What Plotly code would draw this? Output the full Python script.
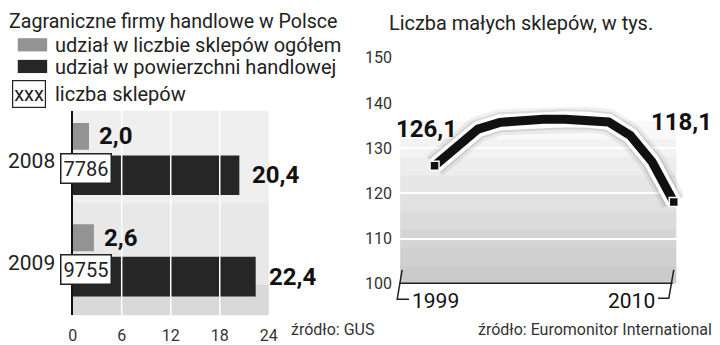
import plotly.graph_objects as go

# ---------------- data ----------------
years_left = ["2008", "2009"]
share_shops = [2.0, 2.6]          # udział w liczbie sklepów ogółem (%)
share_area = [20.4, 22.4]         # udział w powierzchni handlowej (%)
shop_counts = [7786, 9755]        # liczba sklepów
x_ticks_left = [0, 6, 12, 18, 24]

years_right = [1999, 2000, 2001, 2002, 2003, 2004, 2005, 2006, 2007, 2008, 2009, 2010]
small_shops = [126.1, 130.4, 134.2, 135.7, 136.2, 136.4, 136.4, 136.3, 135.8, 132.8, 127.0, 118.1]
y_ticks_right = [100, 110, 120, 130, 140, 150]

W, H = 720, 345
FONT = "Roboto, 'Liberation Sans', sans-serif"


def px(x):
    return x / W


def py(y):
    return 1 - y / H


def fmt(v):
    return f"{v:.1f}".replace(".", ",")


fig = go.Figure()

# ---------------- left chart: bars ----------------
fig.add_trace(go.Bar(
    x=share_shops, y=years_left, orientation="h", xaxis="x", yaxis="y",
    offset=-0.34, width=0.265, marker=dict(color="#939393", line=dict(width=0)),
    showlegend=False, hoverinfo="skip"))
fig.add_trace(go.Bar(
    x=share_area, y=years_left, orientation="h", xaxis="x", yaxis="y",
    offset=-0.02, width=0.39, marker=dict(color="#262626", line=dict(width=0)),
    showlegend=False, hoverinfo="skip"))

# ---------------- right chart: line ----------------
fig.add_trace(go.Scatter(
    x=years_right, y=small_shops, xaxis="x2", yaxis="y2", mode="lines",
    line=dict(color="rgba(0,0,0,0.06)", width=26), showlegend=False, hoverinfo="skip"))
fig.add_trace(go.Scatter(
    x=years_right, y=small_shops, xaxis="x2", yaxis="y2", mode="lines",
    line=dict(color="rgba(0,0,0,0.09)", width=20), showlegend=False, hoverinfo="skip"))
fig.add_trace(go.Scatter(
    x=years_right, y=small_shops, xaxis="x2", yaxis="y2", mode="lines",
    line=dict(color="white", width=16), showlegend=False, hoverinfo="skip"))
fig.add_trace(go.Scatter(
    x=years_right, y=small_shops, xaxis="x2", yaxis="y2", mode="lines",
    line=dict(color="#111111", width=9), showlegend=False, hoverinfo="skip"))
fig.add_trace(go.Scatter(
    x=[years_right[0], years_right[-1]], y=[small_shops[0], small_shops[-1]],
    xaxis="x2", yaxis="y2", mode="markers",
    marker=dict(symbol="square", size=9, color="#111111", line=dict(color="white", width=1.5)),
    showlegend=False, hoverinfo="skip", cliponaxis=False))

shapes = []
annotations = []

# left panel background gradient (lighter at top)
bands = [("#efefef", 0.0, 0.45), ("#e8e8e8", 0.45, 0.85), ("#d9d9d9", 0.85, 1.0)]
for col, a, b in bands:
    shapes.append(dict(type="rect", xref="x domain", yref="y domain",
                       x0=0, x1=1, y0=1 - b, y1=1 - a, fillcolor=col,
                       line=dict(width=0), layer="below"))
# white grid lines above bars
for t in x_ticks_left[1:-1]:
    shapes.append(dict(type="line", xref="x", yref="y domain", x0=t, x1=t, y0=0, y1=1,
                       line=dict(color="white", width=1.5), layer="above"))

# right panel gradient (darker near baseline)
for i in range(9):
    shapes.append(dict(type="rect", xref="x2 domain", yref="y2",
                       x0=0.0, x1=0.975, y0=100, y1=100 + 4.0 * (i + 1),
                       fillcolor="rgba(0,0,0,0.024)", line=dict(width=0), layer="below"))
# baseline and brackets on the right
shapes.append(dict(type="line", xref="paper", yref="paper", x0=px(402), x1=px(681),
                   y0=py(291), y1=py(291), line=dict(color="#222", width=1.5)))
shapes.append(dict(type="path", xref="paper", yref="paper",
                   path=f"M {px(405)} {py(277)} L {px(400)} {py(308)} L {px(412)} {py(308)}",
                   line=dict(color="#222", width=1.5)))
shapes.append(dict(type="path", xref="paper", yref="paper",
                   path=f"M {px(682)} {py(277)} L {px(677)} {py(307)} L {px(666)} {py(307)}",
                   line=dict(color="#222", width=1.5)))

# legend swatches
shapes.append(dict(type="rect", xref="paper", yref="paper", x0=px(13), x1=px(43),
                   y0=py(45), y1=py(31), fillcolor="#939393", line=dict(width=0)))
shapes.append(dict(type="rect", xref="paper", yref="paper", x0=px(13), x1=px(43),
                   y0=py(68), y1=py(54), fillcolor="#262626", line=dict(width=0)))


# titles / legend texts
def text(x, y, s, size=19, color="#222", xanchor="left", yanchor="middle", weight=None, **kw):
    f = dict(family=FONT, size=size, color=color)
    if weight:
        f["weight"] = weight
    annotations.append(dict(xref="paper", yref="paper", x=px(x), y=py(y), text=s,
                            showarrow=False, xanchor=xanchor, yanchor=yanchor,
                            font=f, **kw))


text(2, 13, "Zagraniczne firmy handlowe w Polsce", size=19.6)
text(390, 15, "Liczba małych sklepów, w tys.", size=19.9)
text(49, 38, "udział w liczbie sklepów ogółem", size=20)
text(49, 62, "udział w powierzchni handlowej", size=20)
text(49, 90, "liczba sklepów", size=20)
text(24, 90, "xxx", size=20, xanchor="center", bordercolor="#222", borderwidth=1.2,
     borderpad=1, bgcolor="white")
text(290, 328, "źródło: GUS", size=16, color="#333", yanchor="top")
text(480, 328, "źródło: Euromonitor International", size=16, color="#333", yanchor="top")

# left chart data labels
for i, yr in enumerate(years_left):
    annotations.append(dict(xref="paper", yref="y", x=px(27), y=i, yshift=-4,
                            text=yr, showarrow=False, xanchor="center", yanchor="middle",
                            font=dict(family=FONT, size=21, color="#222")))
    annotations.append(dict(xref="paper", yref="y", x=px(83), y=i, yshift=-11,
                            text=str(shop_counts[i]), showarrow=False, xanchor="center",
                            yanchor="middle", bgcolor="white", bordercolor="#222",
                            borderwidth=1.5, borderpad=2,
                            font=dict(family=FONT, size=20, color="#222")))
    annotations.append(dict(xref="x", yref="y", x=share_shops[i], y=i - 0.34 + 0.265 / 2,
                            text=fmt(share_shops[i]), showarrow=False, xanchor="left",
                            yanchor="middle", xshift=8,
                            font=dict(family=FONT, size=24, color="#111", weight="bold")))
    annotations.append(dict(xref="x", yref="y", x=share_area[i], y=i - 0.02 + 0.39 / 2,
                            text=fmt(share_area[i]), showarrow=False, xanchor="left",
                            yanchor="middle", xshift=11,
                            font=dict(family=FONT, size=24, color="#111", weight="bold")))

# right chart value labels
annotations.append(dict(xref="x2", yref="y2", x=years_right[0], y=small_shops[0],
                        text=fmt(small_shops[0]), showarrow=False, xanchor="center",
                        yanchor="middle", xshift=-8, yshift=37,
                        font=dict(family=FONT, size=24, color="#111", weight="bold")))
annotations.append(dict(xref="x2", yref="y2", x=years_right[-1], y=small_shops[-1],
                        text=fmt(small_shops[-1]), showarrow=False, xanchor="center",
                        yanchor="middle", xshift=8, yshift=80,
                        font=dict(family=FONT, size=24, color="#111", weight="bold")))
# year labels on right chart
annotations.append(dict(xref="x2", yref="paper", x=years_right[0], y=py(310),
                        text=str(years_right[0]), showarrow=False, xanchor="center",
                        yanchor="middle", xshift=1,
                        font=dict(family=FONT, size=21, color="#111")))
annotations.append(dict(xref="x2", yref="paper", x=years_right[-1], y=py(310),
                        text=str(years_right[-1]), showarrow=False, xanchor="right",
                        yanchor="middle", xshift=-17,
                        font=dict(family=FONT, size=21, color="#111")))

fig.update_layout(
    width=W, height=H,
    margin=dict(l=0, r=0, t=0, b=0),
    paper_bgcolor="white",
    plot_bgcolor="rgba(0,0,0,0)",
    barmode="overlay",
    showlegend=False,
    shapes=shapes,
    annotations=annotations,
    xaxis=dict(domain=[px(69), px(269)], range=[0, 24], tickvals=x_ticks_left,
               showgrid=False, zeroline=False, showline=False, ticks="outside",
               ticklen=6, tickcolor="rgba(0,0,0,0)",
               tickfont=dict(family=FONT, size=16, color="#333"), fixedrange=True),
    yaxis=dict(domain=[py(325), py(108)], type="category", range=[1.555, -0.46],
               showticklabels=False, showgrid=False, zeroline=False,
               showline=True, linecolor="#111", linewidth=2, ticks="", fixedrange=True),
    xaxis2=dict(domain=[px(403), px(692)], range=[1997.42, 2010.45], anchor="y2",
                showticklabels=False, showgrid=False, zeroline=False, showline=False,
                ticks="", fixedrange=True),
    yaxis2=dict(domain=[py(291.7), py(51.7)], range=[100, 150], anchor="x2",
                tickvals=y_ticks_right, showgrid=True, gridcolor="white", gridwidth=1.5,
                zeroline=False, showline=False, ticks="outside", ticklen=4,
                tickcolor="rgba(0,0,0,0)",
                tickfont=dict(family=FONT, size=16, color="#333"), fixedrange=True),
)

fig.write_html("out.html")
